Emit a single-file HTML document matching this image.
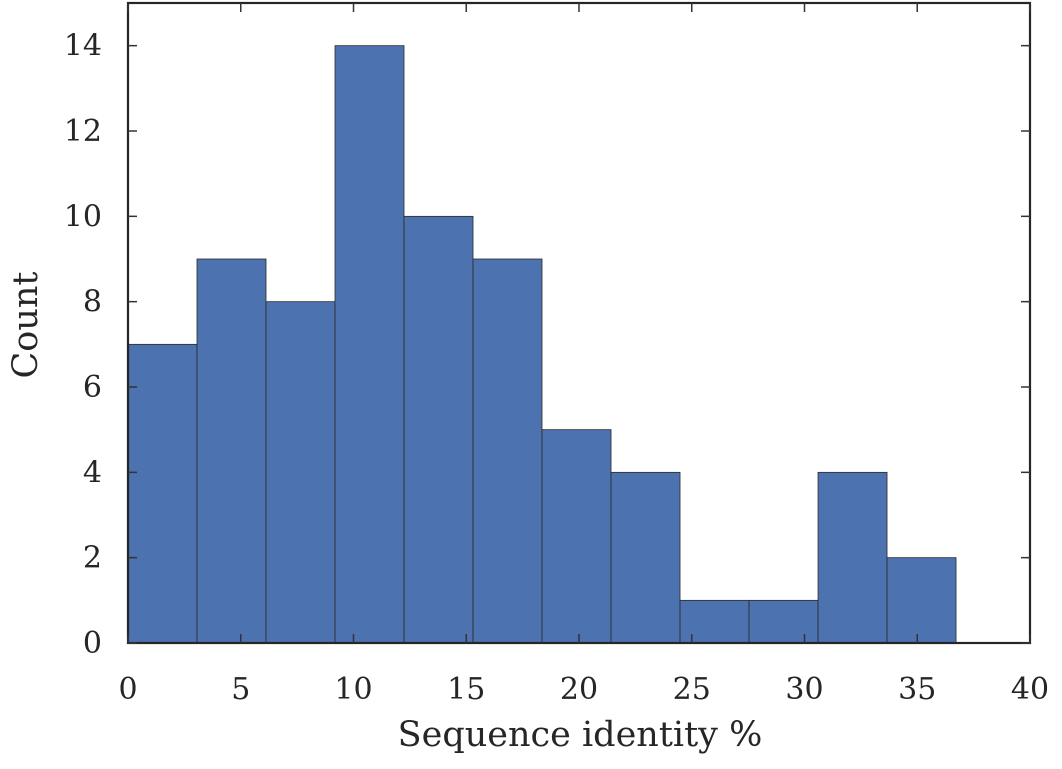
<!DOCTYPE html>
<html><head><meta charset="utf-8"><style>
html,body{margin:0;padding:0;background:#fff;}
svg{display:block;font-family:"DejaVu Serif","Liberation Serif",serif;}
</style></head><body>
<svg id="chart" width="1062" height="769" viewBox="0 0 1062 769" xmlns="http://www.w3.org/2000/svg"></svg>
<script>
const counts = [7, 9, 8, 14, 10, 9, 5, 4, 1, 1, 4, 2];
const binStart = 0;
const binWidth = 3.06;
const xTicks = [0, 5, 10, 15, 20, 25, 30, 35, 40];
const yTicks = [0, 2, 4, 6, 8, 10, 12, 14];

const NS = "http://www.w3.org/2000/svg";
const svg = document.getElementById('chart');
const L = 128, R = 1030, T = 3, B = 643;
const xMin = 0, xMax = 40, yMin = 0, yMax = 15;
function sx(v){ return L + (v - xMin) / (xMax - xMin) * (R - L); }
function sy(v){ return B - (v - yMin) / (yMax - yMin) * (B - T); }
function mk(tag, attrs){ const e = document.createElementNS(NS, tag); for (const k in attrs) e.setAttribute(k, attrs[k]); return e; }

counts.forEach((c, i) => {
  const x0 = sx(binStart + i * binWidth), x1 = sx(binStart + (i + 1) * binWidth);
  const r = mk('rect', {x: x0, y: sy(c), width: x1 - x0, height: sy(0) - sy(c), fill: '#4c72b0', stroke: '#2a2a2a', 'stroke-width': 0.8});
  
  
  svg.appendChild(r);
});

const frame = mk('rect', {x: L, y: T, width: R - L, height: B - T, fill: 'none', stroke: '#262626', 'stroke-width': 2.2});


svg.appendChild(frame);

xTicks.forEach(t => {
  const x = sx(t);
  svg.appendChild(mk('line', {x1: x, x2: x, y1: B, y2: B - 9, stroke: '#333', 'stroke-width': 1.5}));
  svg.appendChild(mk('line', {x1: x, x2: x, y1: T, y2: T + 9, stroke: '#333', 'stroke-width': 1.5}));
  const tx = mk('text', {x: x, y: 699, 'text-anchor': 'middle', 'font-size': 30, fill: '#262626'});
  tx.textContent = t;
  
  
  svg.appendChild(tx);
});
yTicks.forEach(t => {
  const y = sy(t);
  svg.appendChild(mk('line', {x1: L, x2: L + 9, y1: y, y2: y, stroke: '#333', 'stroke-width': 1.5}));
  svg.appendChild(mk('line', {x1: R, x2: R - 9, y1: y, y2: y, stroke: '#333', 'stroke-width': 1.5}));
  const tx = mk('text', {x: 102, y: y + 10, 'text-anchor': 'end', 'font-size': 30, fill: '#262626'});
  tx.textContent = t;
  
  
  svg.appendChild(tx);
});
</script>
<svg style="position:absolute;left:0;top:0;pointer-events:none" width="1062" height="769">
<text x="580" y="746" text-anchor="middle" font-size="35" fill="#262626" font-family="DejaVu Serif, Liberation Serif, serif">Sequence identity %</text>
<text x="0" y="0" transform="translate(37,325) rotate(-90)" text-anchor="middle" font-size="35" fill="#262626" font-family="DejaVu Serif, Liberation Serif, serif">Count</text>
</svg>
</body></html>
